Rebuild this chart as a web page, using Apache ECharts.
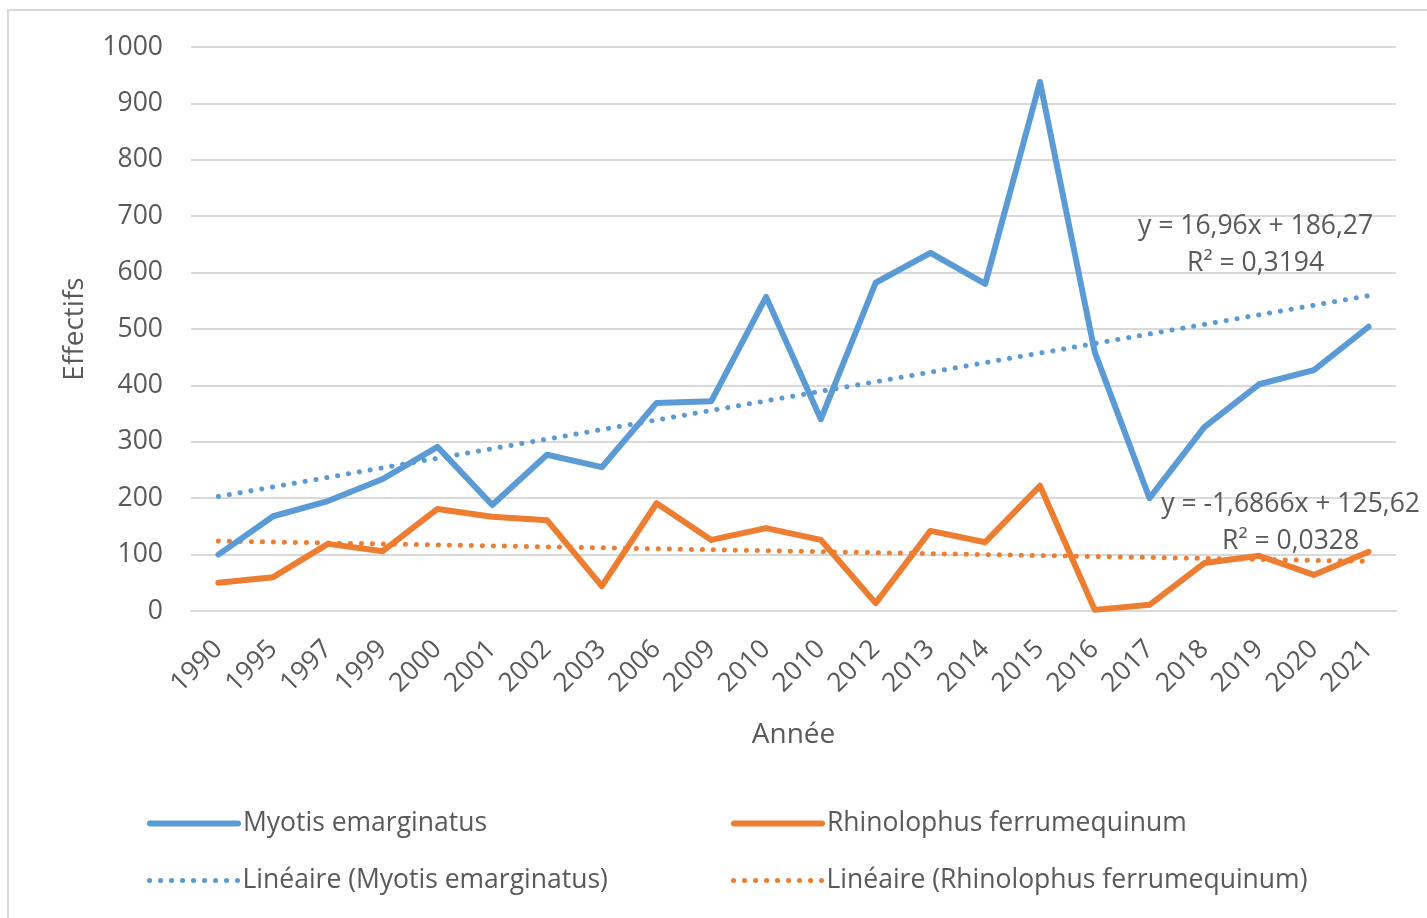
<!DOCTYPE html>
<html>
<head>
<meta charset="utf-8">
<title>Effectifs</title>
<script src="https://cdn.jsdelivr.net/npm/echarts@6/dist/echarts.min.js"></script>
<style>
  html, body { margin: 0; padding: 0; background: #fff; }
  #chart { width: 1427px; height: 918px; }
</style>
</head>
<body>
<div id="chart"></div>
<script>
// years as shown on the axis (2010 appears twice in the source)
const years = ['1990', '1995', '1997', '1999', '2000', '2001', '2002', '2003', '2006', '2009', '2010',
  '2010', '2012', '2013', '2014', '2015', '2016', '2017', '2018', '2019', '2020', '2021']

const myotis = [100, 168, 195, 234, 291, 188, 277, 255, 369, 372, 557,
  340, 582, 635, 580, 938, 459, 200, 326, 402, 427, 504]
const rhino = [50, 60, 119, 106, 181, 167, 161, 44, 191, 126, 147,
  126, 14, 142, 122, 222, 2, 11, 85, 98, 64, 105]

// linear trend end points (first and last year)
const myotisTrend = [203, 559]
const rhinoTrend = [124, 88]

const myotisEq = 'y = 16,96x + 186,27\nR² = 0,3194'
const rhinoEq = 'y = -1,6866x + 125,62\nR² = 0,0328'

const BLUE = '#5B9BD5'
const ORANGE = '#ED7D31'
const TEXT = '#595959'
const GRID = '#D9D9D9'
const FONT = 'Open Sans'
const FS = 26.5
const DOTS = [0.1, 10.9]

const chart = echarts.init(document.getElementById('chart'))

function trendSeries(name, color, ends, eq, offset) {
  const last = years.length - 1
  return {
    name: name,
    type: 'line',
    data: [[0, ends[0]], [last, ends[1]]],
    symbol: 'none',
    z: 2,
    lineStyle: { color: color, width: 5, type: DOTS, cap: 'round' },
    itemStyle: { color: color },
    markPoint: {
      silent: true,
      symbol: 'circle',
      symbolSize: 1,
      itemStyle: { color: 'rgba(0,0,0,0)' },
      label: {
        show: true,
        position: 'inside',
        formatter: eq,
        align: 'center',
        verticalAlign: 'middle',
        offset: offset,
        color: TEXT,
        fontFamily: FONT,
        fontSize: FS,
        lineHeight: 37
      },
      data: [{ coord: [last, ends[1]] }]
    }
  }
}

function legendAt(name, left, top, width, dotted) {
  return {
    data: [name],
    left: left,
    top: top,
    padding: 0,
    itemWidth: 88,
    itemHeight: 14,
    itemStyle: { opacity: 0 },
    lineStyle: { width: width, type: dotted ? DOTS : 'solid', cap: 'round' },
    textStyle: { color: TEXT, fontFamily: FONT, fontSize: FS }
  }
}

chart.setOption({
  animation: false,
  backgroundColor: '#fff',
  graphic: [{
    type: 'rect',
    shape: { x: 8, y: 10, width: 1440, height: 930 },
    style: { fill: 'none', stroke: GRID, lineWidth: 2 },
    silent: true
  }],
  grid: { left: 191, right: 31, top: 47, bottom: 307 },
  legend: [
    legendAt('Myotis emarginatus', 147, 810, 6, false),
    legendAt('Rhinolophus ferrumequinum', 731, 810, 6, false),
    legendAt('Linéaire (Myotis emarginatus)', 147, 867, 5, true),
    legendAt('Linéaire (Rhinolophus ferrumequinum)', 731, 867, 5, true)
  ],
  xAxis: {
    type: 'category',
    data: years,
    boundaryGap: true,
    name: 'Année',
    nameLocation: 'middle',
    nameGap: 110,
    nameTextStyle: { color: TEXT, fontFamily: FONT, fontSize: 28 },
    axisLine: { lineStyle: { color: GRID, width: 2 } },
    axisTick: { show: false },
    axisLabel: {
      rotate: 45,
      interval: 0,
      margin: 34,
      color: TEXT,
      fontFamily: FONT,
      fontSize: FS
    }
  },
  yAxis: {
    type: 'value',
    min: 0,
    max: 1000,
    interval: 100,
    name: 'Effectifs',
    nameLocation: 'middle',
    nameGap: 102,
    nameTextStyle: { color: TEXT, fontFamily: FONT, fontSize: 28 },
    axisLine: { show: false },
    axisTick: { show: false },
    splitLine: { lineStyle: { color: GRID, width: 2 } },
    axisLabel: {
      margin: 28,
      color: TEXT,
      fontFamily: FONT,
      fontSize: FS,
      formatter: function (v) { return String(v) }
    }
  },
  series: [
    {
      name: 'Myotis emarginatus',
      type: 'line',
      data: myotis,
      symbol: 'none',
      z: 3,
      lineStyle: { color: BLUE, width: 6, cap: 'round', join: 'round' },
      itemStyle: { color: BLUE }
    },
    {
      name: 'Rhinolophus ferrumequinum',
      type: 'line',
      data: rhino,
      symbol: 'none',
      z: 3,
      lineStyle: { color: ORANGE, width: 6, cap: 'round', join: 'round' },
      itemStyle: { color: ORANGE }
    },
    trendSeries('Linéaire (Myotis emarginatus)', BLUE, myotisTrend, myotisEq, [-113, -51]),
    trendSeries('Linéaire (Rhinolophus ferrumequinum)', ORANGE, rhinoTrend, rhinoEq, [-78, -38])
  ]
})
</script>
</body>
</html>
